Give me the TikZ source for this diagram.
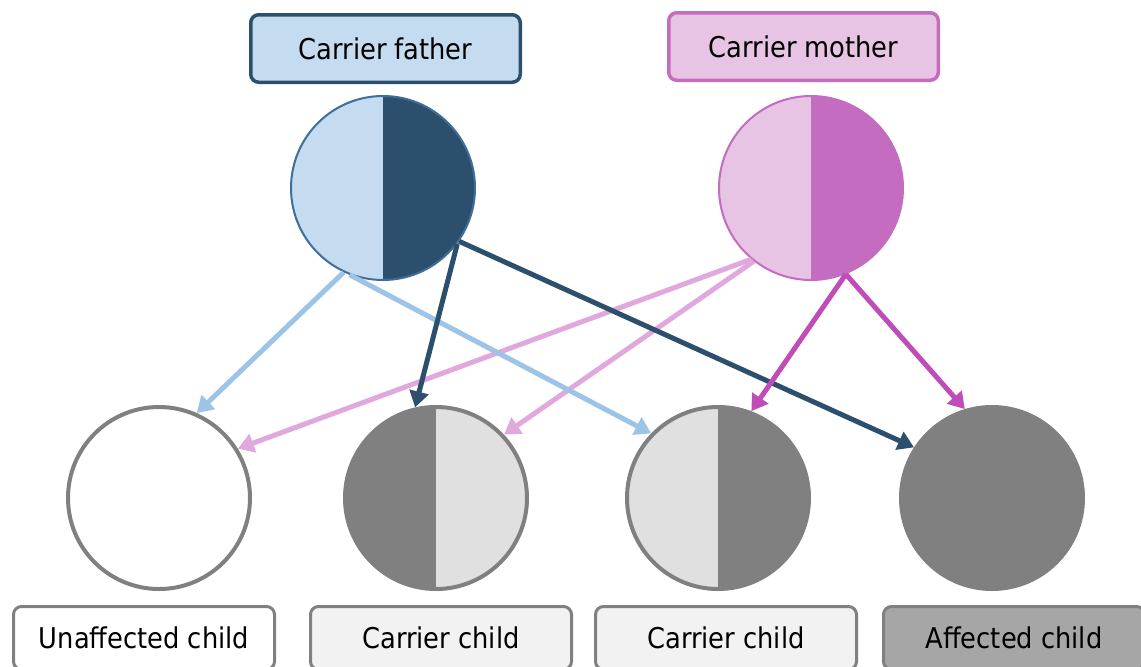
\documentclass[tikz,border=0pt]{standalone}
\usepackage{fontspec}
\setmainfont{DejaVu Sans Condensed}
\usetikzlibrary{arrows.meta}
\definecolor{fdark}{HTML}{2C4F6E}
\definecolor{flight}{HTML}{C5DCF0}
\definecolor{fborder}{HTML}{3F6E9A}
\definecolor{lblue}{HTML}{9DC3E6}
\definecolor{mdark}{HTML}{C46CBF}
\definecolor{mlight}{HTML}{E8C4E4}
\definecolor{marrow}{HTML}{C04CBA}
\definecolor{lpink}{HTML}{E0A8DC}
\definecolor{cgrey}{HTML}{808080}
\definecolor{clight}{HTML}{E0E0E0}
\definecolor{boxlight}{HTML}{F2F2F2}
\definecolor{boxdark}{HTML}{A6A6A6}
\begin{document}
\begin{tikzpicture}[x=0.5pt,y=-0.5pt,
  font=\fontsize{14.3}{16}\selectfont,
  parentbox/.style={rectangle, rounded corners=4pt, line width=1.75pt, minimum width=134.75pt, minimum height=33.75pt, inner sep=0pt},
  childbox/.style={rectangle, rounded corners=4pt, line width=1.5pt, draw=cgrey, minimum width=130.5pt, minimum height=31.5pt, inner sep=0pt},
  pcircle/.style={circle, minimum size=92pt, inner sep=0pt, line width=1pt},
  ccircle/.style={circle, minimum size=91pt, inner sep=0pt, line width=2pt, draw=cgrey},
  righthalf/.style={path picture={\fill[#1] (path picture bounding box.north) rectangle (path picture bounding box.south east);}},
  arr/.style={line width=2.5pt, -{Triangle[width=9.5pt,length=8pt]}}
]
\clip (0,0) rectangle (1141,666);
\fill[white] (0,0) rectangle (1141,666);

% parent labels
\node[parentbox, draw=fdark, fill=flight] (FL) at (385.5,48.5) {Carrier father};
\node[parentbox, draw=mdark, fill=mlight] (ML) at (803.5,46.5) {Carrier mother};

% parent circles
\node[pcircle, draw=fborder, fill=flight, righthalf=fdark] (F) at (383,188) {};
\node[pcircle, draw=mdark, fill=mlight, righthalf=mdark] (M) at (811,188) {};

% child circles
\node[ccircle, fill=white] (C1) at (159,498) {};
\node[ccircle, fill=cgrey, righthalf=clight] (C2) at (436,498) {};
\node[ccircle, fill=clight, righthalf=cgrey] (C3) at (718,498) {};
\node[ccircle, fill=cgrey] (C4) at (992,498) {};

% arrows
\draw[arr, lpink] (M.230) -- (C1.32);
\draw[arr, lpink] (M.232) -- (C2.43);
\draw[arr, lblue] (F.245) -- (C1.66);
\draw[arr, lblue] (F.249) -- (C3.136);
\draw[arr, fdark] (F.-37) -- (C2.103);
\draw[arr, fdark] (F.-35) -- (C4.147);
\draw[arr, marrow] (M.-68) -- (C3.69);
\draw[arr, marrow] (M.-68) -- (C4.107);

% child labels
\node[childbox, fill=white] (L1) at (144,638) {Unaffected child};
\node[childbox, fill=boxlight] (L2) at (441,638) {Carrier child};
\node[childbox, fill=boxlight] (L3) at (726,638) {Carrier child};
\node[childbox, fill=boxdark] (L4) at (1014,638) {Affected child};
\end{tikzpicture}
\end{document}
